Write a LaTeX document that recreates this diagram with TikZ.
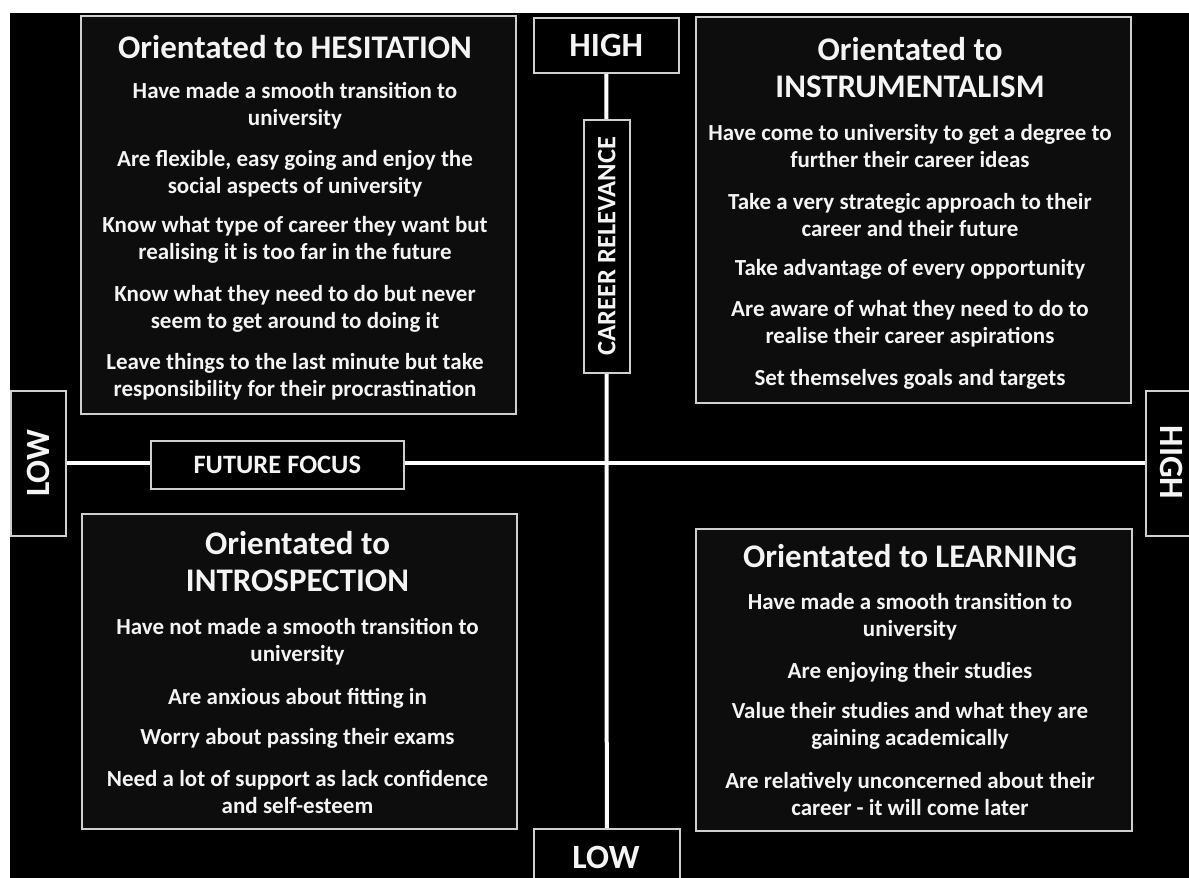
\documentclass[tikz,border=0pt]{standalone}
\usepackage{fontspec}
\setmainfont{Carlito}
\pgfdeclarelayer{back}
\pgfdeclarelayer{lines}
\pgfsetlayers{back,lines,main}
\definecolor{edge}{HTML}{CFCFCF}
\definecolor{boxfill}{HTML}{0D0D0D}
\definecolor{txt}{HTML}{F4F4F4}
\tikzset{
  qbox/.style={draw=edge, line width=2pt, fill=boxfill, inner sep=0pt, anchor=north west},
  abox/.style={draw=edge, line width=1.6pt, fill=black, inner sep=0pt, anchor=north west},
  ttl/.style={text=txt, font=\bfseries\fontsize{33}{37}\selectfont, align=center, inner sep=0pt},
  itm/.style={text=txt, font=\bfseries\fontsize{23}{27}\selectfont, align=center, inner sep=0pt},
  axlab/.style={text=txt, font=\bfseries\fontsize{34}{38}\selectfont, inner sep=0pt},
  axsmall/.style={text=txt, font=\bfseries\fontsize{26.5}{30}\selectfont, inner sep=0pt},
  axisline/.style={draw=white, line width=4pt}
}
\begin{document}
\begin{tikzpicture}[x=1pt,y=-1pt]
\useasboundingbox (0,0) rectangle (1189,878);
\begin{pgfonlayer}{back}
  \fill[white] (0,0) rectangle (1189,878);
  \fill[black] (10,13) rectangle (1195,885);
\end{pgfonlayer}

% axis boxes
\node[abox, minimum width=145pt, minimum height=55pt] (hightop) at (533,17) {};
\node[axlab] at (hightop.center) {HIGH};
\node[abox, minimum width=146pt, minimum height=62pt] (lowbot) at (533,828) {};
\node[axlab] at (606,857) {LOW};
\node[abox, minimum width=55pt, minimum height=145pt] (lowleft) at (10,390) {};
\node[axlab, rotate=90] at (lowleft.center) {LOW};
\node[abox, minimum width=55pt, minimum height=145pt] (highright) at (1145,390) {};
\node[axlab, rotate=-90] at (1172,462.5) {HIGH};
\node[abox, minimum width=253pt, minimum height=48pt] (ff) at (150,440) {};
\node[axsmall] at (ff.center) {FUTURE FOCUS};
\node[abox, minimum width=46pt, minimum height=253pt] (cr) at (583,119) {};
\node[axsmall, rotate=90] at (cr.center) {CAREER RELEVANCE};

\begin{pgfonlayer}{lines}
  \draw[axisline] (hightop.south) -- (lowbot.north);
  \draw[axisline] (lowleft.east) -- (highright.west);
\end{pgfonlayer}

% quadrant boxes
\node[qbox, minimum width=435pt, minimum height=398pt] (hes) at (80,15) {};
\node[qbox, minimum width=435pt, minimum height=386pt] (ins) at (695,16) {};
\node[qbox, minimum width=435pt, minimum height=315pt] (intro) at (81,513) {};
\node[qbox, minimum width=436pt, minimum height=302pt] (learn) at (695,528) {};

% HESITATION
\node[ttl] (hesT) at (295,47) {Orientated to HESITATION};
\node[itm] (hes1) at (295,106) {Have made a smooth transition to\\university};
\node[itm] (hes2) at (295,174) {Are flexible, easy going and enjoy the\\social aspects of university};
\node[itm] (hes3) at (295,240) {Know what type of career they want but\\realising it is too far in the future};
\node[itm] (hes4) at (295,309) {Know what they need to do but never\\seem to get around to doing it};
\node[itm] (hes5) at (295,377) {Leave things to the last minute but take\\responsibility for their procrastination};

% INSTRUMENTALISM
\node[ttl] (insT) at (910,68) {Orientated to\\INSTRUMENTALISM};
\node[itm] (ins1) at (910,146) {Have come to university to get a degree to\\further their career ideas};
\node[itm] (ins2) at (910,215) {Take a very strategic approach to their\\career and their future};
\node[itm] (ins3) at (910,269) {Take advantage of every opportunity};
\node[itm] (ins4) at (910,324) {Are aware of what they need to do to\\realise their career aspirations};
\node[itm] (ins5) at (910,379) {Set themselves goals and targets};

% INTROSPECTION
\node[ttl] (intT) at (297.5,562) {Orientated to\\INTROSPECTION};
\node[itm] (int1) at (297.5,642) {Have not made a smooth transition to\\university};
\node[itm] (int2) at (297.5,698) {Are anxious about fitting in};
\node[itm] (int3) at (297.5,738) {Worry about passing their exams};
\node[itm] (int4) at (297.5,792) {Need a lot of support as lack confidence\\and self-esteem};

% LEARNING
\node[ttl] (lrnT) at (910,556) {Orientated to LEARNING};
\node[itm] (lrn1) at (910,617) {Have made a smooth transition to\\university};
\node[itm] (lrn2) at (910,672) {Are enjoying their studies};
\node[itm] (lrn3) at (910,726) {Value their studies and what they are\\gaining academically};
\node[itm] (lrn4) at (910,794) {Are relatively unconcerned about their\\career - it will come later};
\end{tikzpicture}
\end{document}
